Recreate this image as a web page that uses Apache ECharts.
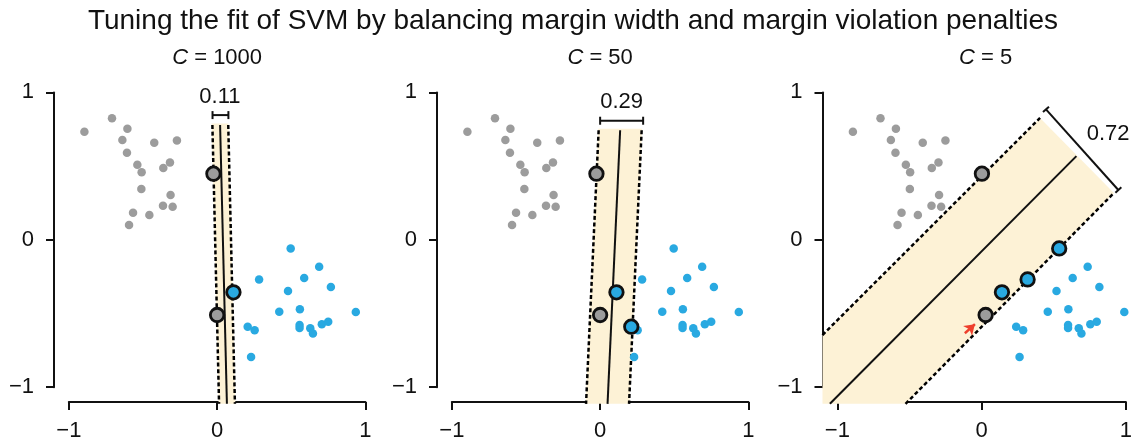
<!DOCTYPE html>
<html><head><meta charset="utf-8">
<script src="https://cdn.jsdelivr.net/npm/echarts@6/dist/echarts.min.js"></script>
<style>html,body{margin:0;padding:0;background:#fff}#c{width:1135px;height:442px}</style>
</head><body><div id="c"></div><script>
const chartTitle = 'Tuning the fit of SVM by balancing margin width and margin violation penalties';
const cValues = ['1000', '50', '5'];
const tickValues = [-1, 0, 1];

const grayPoints = [
  [-0.895,0.735],[-0.709,0.825],[-0.605,0.755],[-0.639,0.679],[-0.424,0.661],[-0.271,0.676],
  [-0.608,0.593],[-0.538,0.512],[-0.509,0.461],[-0.318,0.528],[-0.363,0.490],[-0.511,0.348],
  [-0.314,0.308],[-0.365,0.236],[-0.300,0.229],[-0.567,0.189],[-0.457,0.173],[-0.594,0.106],
  [-0.025,0.452],[0.0,-0.501]
];
const bluePoints = [
  [0.496,-0.052],[0.688,-0.175],[0.587,-0.252],[0.767,-0.312],[0.283,-0.261],[0.478,-0.339],
  [0.110,-0.348],[0.419,-0.479],[0.558,-0.463],[0.935,-0.481],[0.206,-0.580],[0.253,-0.604],
  [0.556,-0.569],[0.556,-0.589],[0.628,-0.591],[0.646,-0.625],[0.706,-0.564],[0.749,-0.546],
  [0.229,-0.784]
];

const supportGray = [
  [[-0.025,0.452],[0.0,-0.501]],
  [[-0.025,0.452],[0.0,-0.501]],
  [[-0.025,0.452],[0.0,-0.501]]
];
const supportBlue = [
  [[0.110,-0.348]],
  [[0.110,-0.348],[0.210,-0.580]],
  [[0.110,-0.348],[0.283,-0.261],[0.496,-0.052]]
];

const marginBands = [
  [[-0.037,0.79],[0.010,-1.1],[0.123,-1.1],[0.076,0.79]],
  [[-0.013,0.755],[-0.098,-1.1],[0.198,-1.1],[0.283,0.755]],
  [[-1.1,-0.636],[0.367,0.828],[0.865,0.322],[-0.54,-1.1],[-1.1,-1.1]]
];
const decisionLines = [
  [[0.020,0.78],[0.066,-1.1]],
  [[0.135,0.745],[0.050,-1.1]],
  [[-1.05,-1.1],[0.612,0.57]]
];
const upperMargins = [
  [[-0.032,0.78],[0.013,-1.1]],
  [[-0.010,0.745],[-0.095,-1.1]],
  [[-1.1,-0.636],[0.367,0.828]]
];
const lowerMargins = [
  [[0.075,0.78],[0.120,-1.1]],
  [[0.280,0.745],[0.195,-1.1]],
  [[-0.54,-1.1],[0.865,0.322]]
];
const widthBrackets = [
  [-0.031,0.847,0.076,0.847],
  [0.0,0.809,0.29,0.809],
  [0.407,0.886,0.895,0.342]
];
const widthLabels = ['0.11', '0.29', '0.72'];
const widthLabelPos = [[0.019,0.971],[0.145,0.937],[0.826,0.72]];
const violationArrow = [[-0.14,-0.624],[-0.072,-0.563]];

// ---------- layout / style ----------
const UNIT = 148.3;
const PANEL_LEFT = [54, 437, 822.5];
const TOP = 92.4;
const FONT = '"Liberation Sans", Arial, Helvetica, sans-serif';
const GRAY = '#9c9c9c', BLUE = '#29a9e1', BAND = '#fdf2d6', INK = '#111111';

const fmt = v => v < 0 ? '\u2212' + (-v) : String(v);

const grid = [], xAxis = [], yAxis = [], series = [], graphic = [];

graphic.push({type:'text', x: 573, y: 21.5, style:{text: chartTitle, font: '28px ' + FONT, fill: INK, textAlign:'center', textVerticalAlign:'middle'}});

for (let i = 0; i < 3; i++) {
  const L = PANEL_LEFT[i];
  grid.push({left: L, top: TOP, width: 2.1*UNIT, height: 2.1*UNIT});
  grid.push({left: L + 0.1*UNIT, top: TOP, width: 2*UNIT, height: 2*UNIT});
  const dg = 2*i, ag = 2*i+1;
  xAxis.push({gridIndex: dg, type:'value', min:-1.1, max:1, show:false});
  yAxis.push({gridIndex: dg, type:'value', min:-1.1, max:1, show:false});
  const axisCommon = {
    type:'value', min: tickValues[0], max: tickValues[tickValues.length-1], interval: 1,
    offset: 0.1*UNIT,
    axisLine:{show:true, onZero:false, lineStyle:{color:INK, width:2}},
    axisTick:{show:true, length:8, lineStyle:{color:INK, width:2}},
    splitLine:{show:false},
    axisLabel:{fontSize:22, fontFamily:FONT, color:INK, margin:18, formatter: fmt}
  };
  xAxis.push(Object.assign({gridIndex: ag, position:'bottom'}, axisCommon));
  yAxis.push(Object.assign({gridIndex: ag, position:'left'}, axisCommon, {axisLabel: Object.assign({}, axisCommon.axisLabel, {margin: 20})}));

  graphic.push({type:'text', x: L + 1.1*UNIT, y: 57.5, style:{
    text: '{i|C} = ' + cValues[i], font: '22px ' + FONT, fill: INK, textAlign:'center', textVerticalAlign:'middle',
    rich: {i: {fontStyle:'italic', fontSize:22, fontFamily: FONT, fill: INK}}
  }});

  const band = marginBands[i];
  series.push({
    type:'custom', xAxisIndex: dg, yAxisIndex: dg, z:1, silent:true, clip:false,
    data: band,
    renderItem: (params, api) => {
      if (params.dataIndex !== 0) return;
      return {type:'polygon', shape:{points: band.map(p => api.coord(p))}, style:{fill: BAND}};
    }
  });
  [upperMargins[i], lowerMargins[i]].forEach(m => series.push({
    type:'line', xAxisIndex: dg, yAxisIndex: dg, z:2, silent:true, data: m, showSymbol:false, symbol:'none',
    lineStyle:{color: '#000', width: 2.5, type: [4,2.6]}
  }));
  series.push({
    type:'line', xAxisIndex: dg, yAxisIndex: dg, z:3, silent:true, data: decisionLines[i], showSymbol:false, symbol:'none',
    lineStyle:{color: INK, width: 2}
  });
  series.push({type:'scatter', xAxisIndex: dg, yAxisIndex: dg, z:4, silent:true, data: grayPoints, symbolSize: 8.5, itemStyle:{color: GRAY, opacity:1}});
  series.push({type:'scatter', xAxisIndex: dg, yAxisIndex: dg, z:4, silent:true, data: bluePoints, symbolSize: 8.5, itemStyle:{color: BLUE, opacity:1}});
  series.push({type:'scatter', xAxisIndex: dg, yAxisIndex: dg, z:5, silent:true, data: supportGray[i], symbolSize: 13.5, itemStyle:{color: GRAY, borderColor: INK, borderWidth: 2.8, opacity:1}});
  series.push({type:'scatter', xAxisIndex: dg, yAxisIndex: dg, z:5, silent:true, data: supportBlue[i], symbolSize: 13.5, itemStyle:{color: BLUE, borderColor: INK, borderWidth: 2.8, opacity:1}});

  const lbl = widthLabels[i], lpos = widthLabelPos[i];
  series.push({
    type:'custom', xAxisIndex: dg, yAxisIndex: dg, z:6, silent:true, clip:false,
    dimensions:['x1','y1','x2','y2'], encode:{x:[0,2], y:[1,3]},
    data: [widthBrackets[i]],
    renderItem: (params, api) => {
      const a = api.coord([api.value(0), api.value(1)]);
      const b = api.coord([api.value(2), api.value(3)]);
      const dx = b[0]-a[0], dy = b[1]-a[1], len = Math.hypot(dx, dy);
      const nx = -dy/len*4, ny = dx/len*4;
      const ls = {stroke: INK, lineWidth: 2};
      const t = api.coord(lpos);
      return {type:'group', children:[
        {type:'line', shape:{x1:a[0], y1:a[1], x2:b[0], y2:b[1]}, style: ls},
        {type:'line', shape:{x1:a[0]-nx, y1:a[1]-ny, x2:a[0]+nx, y2:a[1]+ny}, style: ls},
        {type:'line', shape:{x1:b[0]-nx, y1:b[1]-ny, x2:b[0]+nx, y2:b[1]+ny}, style: ls},
        {type:'text', x: t[0], y: t[1], style:{text: lbl, font: '22px ' + FONT, fill: INK, textAlign:'center', textVerticalAlign:'middle'}}
      ]};
    }
  });
  if (i === 2) {
    series.push({
      type:'lines', coordinateSystem:'cartesian2d', xAxisIndex: dg, yAxisIndex: dg, z:6, silent:true,
      symbol:['none','arrow'], symbolSize: 10,
      lineStyle:{color:'#ee3f2c', width: 2.5, opacity:1},
      data:[{coords: violationArrow}]
    });
  }
}

const chart = echarts.init(document.getElementById('c'), null, {renderer:'canvas'});
chart.setOption({animation:false, backgroundColor:'#fff', grid, xAxis, yAxis, series, graphic});
</script></body></html>
